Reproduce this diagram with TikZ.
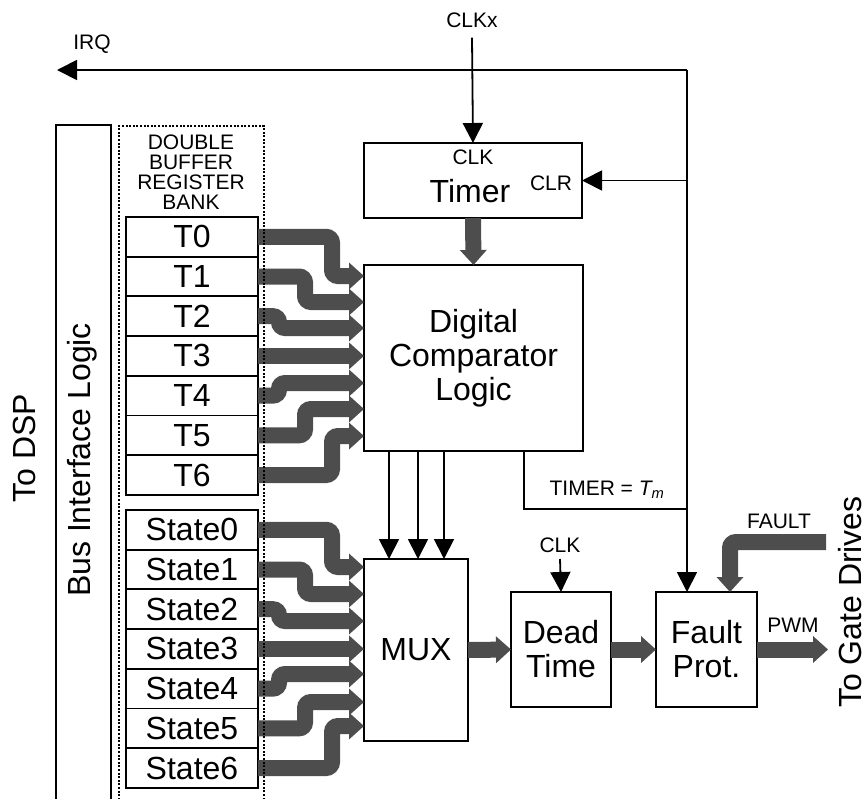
\documentclass[tikz,border=0pt]{standalone}
\usepackage{fontspec}
\setmainfont{Liberation Sans}
\usepackage{xcolor}
\usetikzlibrary{arrows.meta,positioning}
\definecolor{busgray}{RGB}{77,77,77}
\newcommand{\bigtxt}{\fontsize{32}{34}\selectfont}
\newcommand{\smalltxt}{\fontsize{21}{20}\selectfont}

\begin{document}
\begin{tikzpicture}[
  x=1pt,y=-1pt,
  blk/.style={draw,line width=1.8pt,align=center,font=\bigtxt,inner sep=0pt,outer sep=0pt},
  reg/.style={blk,minimum width=132pt,minimum height=39.7pt},
  lbl/.style={font=\smalltxt,inner sep=0pt},
  big/.style={font=\bigtxt,inner sep=0pt},
  wire/.style={line width=1.8pt},
  ar/.style={wire,-{Triangle[length=20pt,width=20pt]}},
  bus/.style={line width=16pt,busgray,rounded corners=6pt,-{Triangle[length=15pt,width=26pt]}}
]
\useasboundingbox (0,0) rectangle (866,798);
\node[blk,minimum width=55pt,minimum height=705pt,anchor=north west] (busif) at (56,125) {};
\node[big,rotate=90,anchor=base] (busiftxt) at (90,460) {Bus Interface Logic};
\node[big,rotate=90,anchor=base] (dsp) at (35,448) {To DSP};
\node[lbl,align=center,anchor=north] (banktxt) at (191,135) {DOUBLE\\BUFFER\\REGISTER\\BANK};
\node[reg] (t0) at (192,236.8) {T0};
\node[reg,below=0pt of t0] (t1) {T1};
\node[reg,below=0pt of t1] (t2) {T2};
\node[reg,below=0pt of t2] (t3) {T3};
\node[reg,below=0pt of t3] (t4) {T4};
\node[reg,below=0pt of t4] (t5) {T5};
\node[reg,below=0pt of t5] (t6) {T6};
\node[reg] (s0) at (192,529.8) {State0};
\node[reg,below=0pt of s0] (s1) {State1};
\node[reg,below=0pt of s1] (s2) {State2};
\node[reg,below=0pt of s2] (s3) {State3};
\node[reg,below=0pt of s3] (s4) {State4};
\node[reg,below=0pt of s4] (s5) {State5};
\node[reg,below=0pt of s5] (s6) {State6};
\node[blk,minimum width=218pt,minimum height=75pt] (timer) at (473,180.5) {};
\node[lbl] (tclk) at (473,157.5) {CLK};
\node[big,anchor=base] (ttxt) at (470,202) {Timer};
\node[lbl,anchor=base] (tclr) at (551,190) {CLR};
\node[blk,minimum width=219pt,minimum height=186pt] (cmp) at (473.5,358) {Digital\\Comparator\\Logic};
\node[blk,minimum width=104pt,minimum height=182pt] (mux) at (416,650) {MUX};
\node[blk,minimum width=100pt,minimum height=115pt] (dead) at (561,649.5) {Dead\\Time};
\node[blk,minimum width=101pt,minimum height=115pt] (fault) at (706.5,649.5) {Fault\\Prot.};
\node[lbl] (clkx) at (472,20) {CLKx};
\node[lbl] (irq) at (92,44) {IRQ};
\node[lbl,anchor=base] (tm) at (607,495) {TIMER = {\itshape T\textsubscript{m}}};
\node[lbl,anchor=base] (dclk) at (560,552) {CLK};
\node[lbl,anchor=base] (flt) at (779,528) {FAULT};
\node[lbl,anchor=base] (pwm) at (793,632) {PWM};
\node[big,rotate=90,anchor=base] (gate) at (861,602) {To Gate Drives};
\coordinate (top) at (687,70);
\coordinate (irqend) at (57,70);
\coordinate (faultin) at (826,542);
\coordinate (pwmend) at (828,649.5);
\draw[bus] (t0.east) -| (332,276) -- (cmp.west |- 0,276);
\draw[bus] (t1.east) -| (305,302) -- (cmp.west |- 0,302);
\draw[bus] (t2.east) -| (279,328) -- (cmp.west |- 0,328);
\draw[bus] (t3.east) -- (cmp.west |- t3.east);
\draw[bus] (t4.east) -| (279,383) -- (cmp.west |- 0,383);
\draw[bus] (t5.east) -| (305,409) -- (cmp.west |- 0,409);
\draw[bus] (t6.east) -| (332,436) -- (cmp.west |- 0,436);
\draw[bus] (s0.east) -| (332,567) -- (mux.west |- 0,567);
\draw[bus] (s1.east) -| (305,594) -- (mux.west |- 0,594);
\draw[bus] (s2.east) -| (279,621) -- (mux.west |- 0,621);
\draw[bus] (s3.east) -- (mux.west |- s3.east);
\draw[bus] (s4.east) -| (279,674) -- (mux.west |- 0,674);
\draw[bus] (s5.east) -| (305,702) -- (mux.west |- 0,702);
\draw[bus] (s6.east) -| (332,726) -- (mux.west |- 0,726);
\draw[bus] (timer.south) -- (cmp.north);
\draw[bus] (mux.east) -- (dead.west);
\draw[bus] (dead.east) -- (fault.west);
\draw[bus] (fault.east) -- (pwmend);
\draw[bus] (faultin) -| (fault.north -| 730,0);
\draw[ar] ([yshift=-10pt]clkx.south) -- (timer.north);
\draw[ar] (top) -- (irqend);
\draw[ar] (top |- timer.east) -- (timer.east);
\draw[ar] (top) -- (top |- fault.north);
\draw[wire] (cmp.south -| 524,0) |- (top |- 0,509);
\draw[ar] (cmp.south -| 389,0) -- (mux.north -| 389,0);
\draw[ar] (cmp.south -| 418,0) -- (mux.north -| 418,0);
\draw[ar] (cmp.south -| 444,0) -- (mux.north -| 444,0);
\draw[ar] ([yshift=-7pt]dclk.base) -- (dead.north);
\node[draw,line width=2pt,dash pattern=on 2pt off 1.6pt,minimum width=145pt,minimum height=705pt,inner sep=0pt,anchor=north west] (bank) at (118,125) {};
\end{tikzpicture}
\end{document}
